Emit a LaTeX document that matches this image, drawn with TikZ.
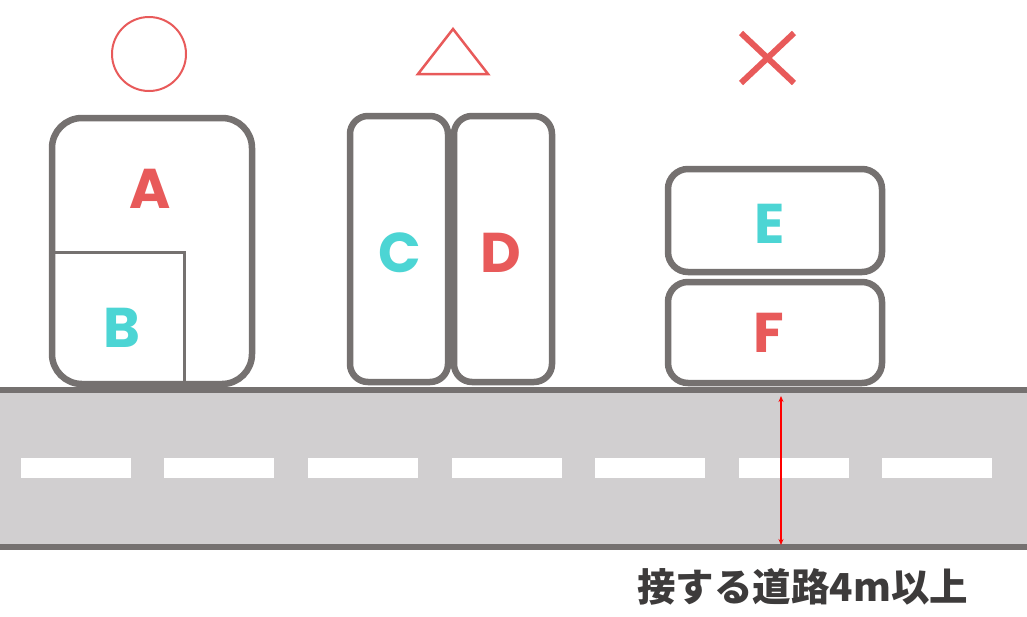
\documentclass[tikz,border=0pt]{standalone}
\usepackage{fontspec}
\newfontfamily\lat{Poppins}
\newfontfamily\cjk{Noto Sans CJK JP}
\usetikzlibrary{arrows.meta}
\definecolor{boxgrey}{HTML}{757170}
\definecolor{roadgrey}{HTML}{D1CFD0}
\definecolor{mred}{HTML}{E85A5A}
\definecolor{mteal}{HTML}{4CD5D4}
\definecolor{txtgrey}{HTML}{3D3B3B}
\begin{document}
\begin{tikzpicture}[x=1pt,y=-1pt,
  carbox/.style={draw=boxgrey, line width=6.5pt, fill=white, inner sep=0pt, outer sep=0pt, minimum width=#1},
  letter/.style={font=\lat\bfseries\fontsize{56}{56}\selectfont, inner sep=0pt},
  dashmark/.style={fill=white, draw=none, inner sep=0pt, minimum width=110pt, minimum height=20pt},
  roadedge/.style={draw=boxgrey, line width=6pt},
  sym/.style={draw=mred}]
\useasboundingbox (0,0) rectangle (1027,616);
% road
\fill[roadgrey] (0,390) rectangle (1027,547);
\foreach \x [count=\i] in {75.5,219,363,507,650,794,937}{
  \node[dashmark] (dash\i) at (\x,468) {};
}
% boxes
\node[carbox=200pt, minimum height=266pt, rounded corners=30pt] (boxA) at (152,251) {};
\coordinate (bTop) at (52,252);
\coordinate (bCorner) at (184,252);
\coordinate (bFoot) at (184,388);
\draw[boxgrey, line width=3pt] (bTop) -- (bCorner) -- (bFoot);
\node[carbox=98pt, minimum height=266pt, rounded corners=18pt] (boxC) at (399,249) {};
\node[carbox=98pt, minimum height=266pt, rounded corners=18pt] (boxD) at (503,249) {};
\node[carbox=214pt, minimum height=103pt, rounded corners=20pt] (boxE) at (775,220.5) {};
\node[carbox=214pt, minimum height=101pt, rounded corners=20pt] (boxF) at (775,332.5) {};
% road edges
\coordinate (rt1) at (0,390); \coordinate (rt2) at (1027,390);
\coordinate (rb1) at (0,547); \coordinate (rb2) at (1027,547);
\draw[roadedge] (rt1) -- (rt2);
\draw[roadedge] (rb1) -- (rb2);
% letters
\node[letter, text=mred] (lA) at (150,189) {A};
\node[letter, text=mteal] (lB) at (122,328) {B};
\node[letter, text=mteal] (lC) at (400,253) {C};
\node[letter, text=mred] (lD) at (501,253) {D};
\node[letter, text=mteal] (lE) at (770,224) {E};
\node[letter, text=mred] (lF) at (769,333) {F};
% symbols
\node[sym, circle, line width=2pt, minimum size=74pt, inner sep=0pt] (okmark) at (149,54) {};
\coordinate (t1) at (453,29); \coordinate (t2) at (488,74); \coordinate (t3) at (418,74);
\draw[mred, line width=2.5pt, line join=miter] (t1) -- (t2) -- (t3) -- cycle;
\coordinate (x1) at (741,33); \coordinate (x2) at (794,83);
\coordinate (x3) at (794,33); \coordinate (x4) at (741,83);
\draw[mred, line width=6pt] (x1) -- (x2) (x3) -- (x4);
% dimension arrow
\coordinate (arTop) at (781,396);
\coordinate (arBot) at (781,545);
\draw[red, line width=1.3pt, {Stealth[length=6pt,width=5pt]}-{Stealth[length=6pt,width=5pt]}] (arTop) -- (arBot);
% caption
\node[anchor=base west, inner sep=0pt, text=txtgrey, font=\cjk\bfseries\fontsize{38.5}{38.5}\selectfont] (cap) at (637,601) {接する道路4m以上};
\end{tikzpicture}
\end{document}
